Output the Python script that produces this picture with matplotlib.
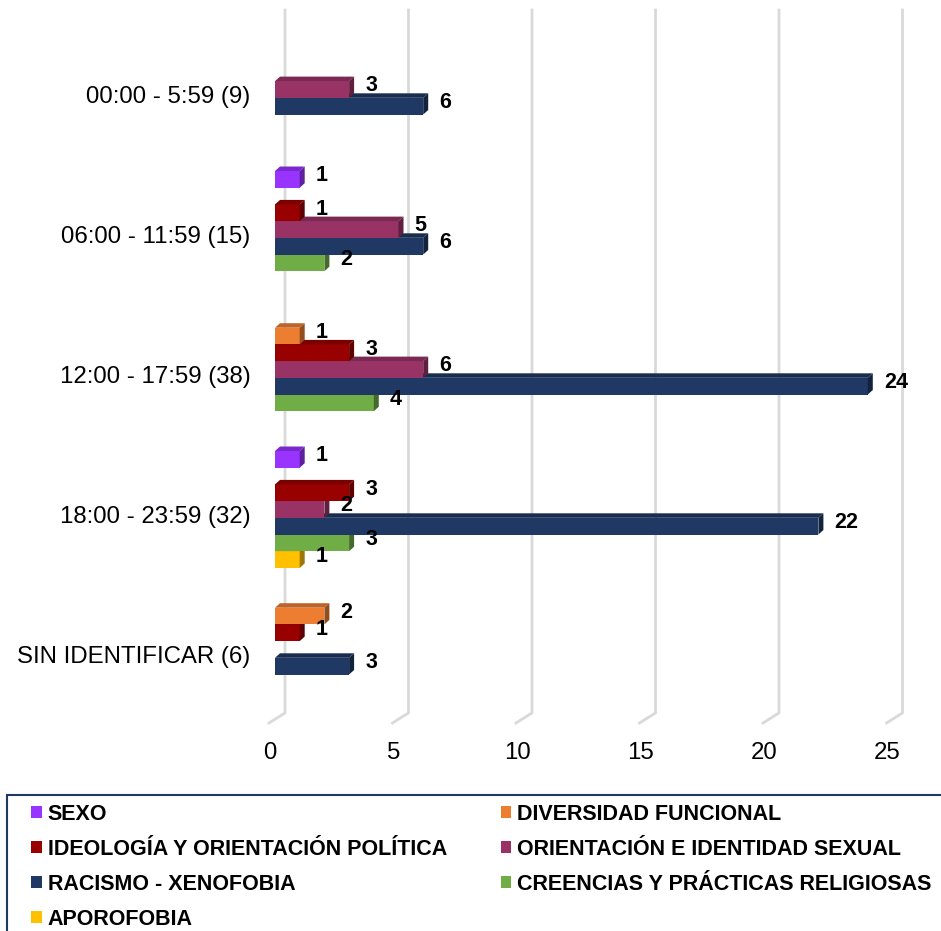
import numpy as np
import matplotlib
matplotlib.use("Agg")
import matplotlib.pyplot as plt
from matplotlib.patches import Polygon, Rectangle, Patch
from matplotlib.transforms import ScaledTranslation

plt.rcParams['font.family'] = ['Liberation Sans', 'DejaVu Sans']

categories = ["00:00 - 5:59 (9)", "06:00 - 11:59 (15)", "12:00 - 17:59 (38)",
              "18:00 - 23:59 (32)", "SIN IDENTIFICAR (6)"]
series_names = ["SEXO", "DIVERSIDAD FUNCIONAL", "IDEOLOGÍA Y ORIENTACIÓN POLÍTICA",
                "ORIENTACIÓN E IDENTIDAD SEXUAL", "RACISMO - XENOFOBIA",
                "CREENCIAS Y PRÁCTICAS RELIGIOSAS", "APOROFOBIA"]
colors = ["#9933FF", "#ED7D31", "#990000", "#993366", "#1F3864", "#70AD47", "#FFC000"]

sexo = [0, 1, 0, 1, 0]
diversidad = [0, 0, 1, 0, 2]
ideologia = [0, 1, 3, 3, 1]
orientacion = [3, 5, 6, 2, 0]
racismo = [6, 6, 24, 22, 3]
creencias = [0, 2, 4, 3, 0]
aporofobia = [0, 0, 0, 1, 0]
values = [sexo, diversidad, ideologia, orientacion, racismo, creencias, aporofobia]

xticks = [0, 5, 10, 15, 20, 25]

def shade(c, f):
    rgb = np.array(matplotlib.colors.to_rgb(c))
    return tuple(rgb * f)

fig = plt.figure(figsize=(9.41, 9.31), dpi=100)
W, H = 941, 931
ax = fig.add_axes([275 / W, 1 - 723 / H, 617.5 / W, 713 / H])
ax.set_xlim(0, 25)
ax.set_ylim(4.486, -0.607)
for s in ax.spines.values():
    s.set_visible(False)

# 3d offsets (data units)
px_x = 24.7      # px per unit on x
px_y = 140.0     # px per category
dx = 5 / px_x
dy = 4.5 / px_y
slot = 16.7 / px_y
h = slot

# slanted gridlines (back wall + floor)
for v in xticks:
    ax.plot([v + 10 / px_x, v + 10 / px_x, v - 6 / px_x],
            [-0.607, 4.414, 4.486], color="#d9d9d9", lw=2, zorder=0, clip_on=False)

ycat = np.arange(len(categories))
for k in range(len(series_names) - 1, -1, -1):
    vals = values[k]
    yc = ycat + (k - 3.33) * slot
    z = 10 - k
    ax.barh(yc, vals, height=h, color=colors[k], zorder=z)
    for y, v in zip(yc, vals):
        if v <= 0:
            continue
        yt = y - h / 2
        yb = y + h / 2
        top = Polygon([(0, yt), (v, yt), (v + dx, yt - dy), (dx, yt - dy)],
                      closed=True, facecolor=shade(colors[k], 0.8), edgecolor="none", zorder=z)
        side = Polygon([(v, yt), (v, yb), (v + dx, yb - dy), (v + dx, yt - dy)],
                       closed=True, facecolor=shade(colors[k], 0.62), edgecolor="none", zorder=z)
        ax.add_patch(top)
        ax.add_patch(side)
        ax.text(v + 16 / px_x, y - 3.5 / px_y, str(v), fontsize=15.5, fontweight="bold",
                va="center", ha="left", zorder=20, clip_on=False)

ax.set_yticks(ycat)
ax.set_yticklabels(categories, fontsize=17.3)
ax.tick_params(axis="y", length=0, pad=17.5)
ax.set_xticks(xticks)
ax.set_xticklabels([str(t) for t in xticks], fontsize=17.3)
ax.tick_params(axis="x", length=0, pad=14)
for lab in ax.get_xticklabels():
    lab.set_transform(lab.get_transform() + ScaledTranslation(-5 / 100, 0, fig.dpi_scale_trans))

# legend box
fig.add_artist(Rectangle((7 / W, -0.01), 1.0, (931 - 795) / H + 0.01, transform=fig.transFigure,
                         fill=False, edgecolor="#1F3864", lw=1.5))
order = [0, 2, 4, 6, 1, 3, 5]
handles = [Patch(facecolor=colors[i], edgecolor="none") for i in order]
labels = [series_names[i] for i in order]
fig.legend(handles, labels, loc="upper left", bbox_to_anchor=(31 / W, 1 - 804 / H),
           ncol=2, frameon=False, borderpad=0, borderaxespad=0,
           handlelength=0.5, handleheight=0.5, handletextpad=0.28,
           columnspacing=2.49, labelspacing=0.65,
           prop={"weight": "bold", "size": 15.5})

fig.savefig("out.png", dpi=100)
